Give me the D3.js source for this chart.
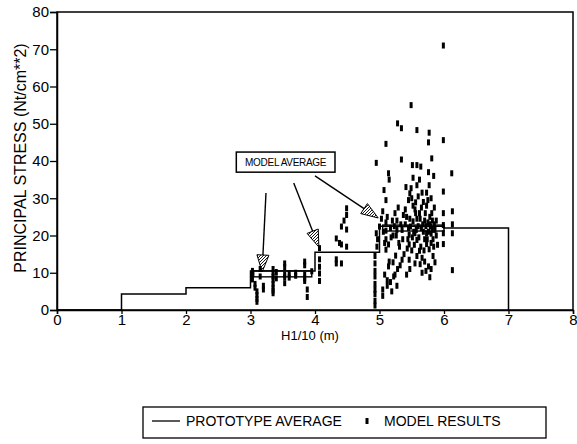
<!DOCTYPE html>
<head>
    <meta charset="utf-8">
    <script src="https://d3js.org/d3.v7.min.js"></script>
    <style>
        body { margin:0; background:#fff; }
        svg text { font-family: "Liberation Sans", Arial, sans-serif; fill:#000; }
    </style>
</head>
<body>
    <svg id="svgelem" width="577" height="444"></svg>

    <script>
        // prototype average (step line, each value holds until the next x)
        var protoX = [0, 1, 2, 3, 4, 5, 6, 7];
        var protoY = [0, 4.3, 6, 10.5, 15.5, 22.5, 22, 0];

        // model average, drawn as hollow bars
        var avgStart = [3.05, 5.05];
        var avgEnd   = [3.95, 6.0];
        var avgLow   = [8.9, 21.2];
        var avgHigh  = [10.5, 22.8];

        // model results [H1/10, stress]
        var modelResults = [
            [3.03,10.5],[3.03,9.5],[3.03,8.2],[3.07,7],[3.07,6],[3.1,5],[3.1,4],[3.1,3],[3.1,2.2],
            [3.15,11],[3.15,9],[3.2,6.5],[3.2,5.5],
            [3.35,11],[3.35,10],[3.35,9],[3.35,8],[3.35,7],[3.35,6],[3.35,5.2],[3.35,4.5],
            [3.4,10.2],[3.4,8.5],[3.53,12.5],[3.53,11.5],[3.53,9.5],[3.53,8.8],[3.53,7.2],
            [3.6,9.8],[3.6,8.7],[3.7,10],[3.7,9.2],
            [3.84,13],[3.84,12],[3.84,9.5],[3.84,8.5],[3.84,7.8],[3.88,5.5],[3.88,3.5],[3.95,10.4],
            [4.07,16.6],[4.07,13.6],[4.07,11.6],[4.07,9.8],[4.07,7.8],
            [4.33,13.6],[4.33,12.5],[4.33,19.2],[4.38,18],[4.41,22.4],[4.41,17.6],[4.41,12.5],
            [4.45,24],[4.49,27.3],[4.49,25.5],[4.49,21.6],[4.49,17],
            [4.93,14.5],[4.93,12.5],[4.93,10.5],[4.93,9],[4.93,7],[4.93,5.5],[4.93,4.3],[4.93,2.5],[4.93,1.2],
            [4.95,39.5],[4.95,20.6],[4.96,17],
            [5.99,71],[5.49,55],[5.28,50.1],[5.34,48.8],[5.58,48.3],[5.77,47.6],[5.76,45],[5.99,45.6],
            [5.10,44.6],[5.34,40.4],[5.51,38.9],[5.58,38.9],[5.64,38.5],[5.81,40.7],[5.76,37],
            [5.84,36],[6.12,36.7],[5.14,36.7],[5.15,35],[5.58,33.5],[5.49,32.7],[5.47,31.3],[5.77,33.5],
            [5.73,31.5],[5.99,31.8],[5.07,32.2],[5.10,29.5],[5.24,26],[5.29,27.5],[5.45,29.5],
            [5.56,28.9],[5.65,27.5],[5.56,26],[5.73,28],[5.81,26],[5.99,26],[6.13,26.5],
            [5.00,22.4],[4.97,19],[5.03,24.5],[5.06,21],[5.10,23.5],[5.10,21.3],[5.10,19],[5.10,16.2],
            [5.14,17.6],[5.17,22],[5.20,24],[5.21,20],[5.26,20],[5.27,24],[5.27,21.5],[5.30,18],
            [5.35,21.5],[5.36,19],[5.31,17],[5.40,23],[5.42,25],[5.46,17.6],[5.46,20.2],[5.48,22.4],
            [5.52,23.8],[5.50,16],[5.55,20.6],[5.58,18.8],[5.60,22.5],[5.62,15.9],[5.63,24.5],
            [5.66,14],[5.68,21],[5.70,19],[5.73,20.6],[5.73,17.7],[5.75,23.5],[5.77,16.3],[5.79,22.4],
            [5.82,21.5],[5.83,19],[5.83,14.5],[5.85,23],[5.88,20],[5.90,17.5],[5.99,17.7],[5.99,20.6],
            [5.99,22.8],[6.13,23],[6.13,20.6],[5.78,25],[5.80,18],[5.70,24],[5.65,22],[5.53,21],
            [5.44,19],[5.38,15],[5.25,14.6],[5.21,12.8],[5.15,13],[5.55,27],[5.60,30.5],[5.68,29],
            [5.40,27],[5.62,35],[5.52,35.5],[5.80,30],[5.88,24],[5.58,24.5],[5.45,22],[5.72,22.5],
            [5.05,26.5],[5.08,18],[5.12,25],[5.18,19.5],[5.23,22.5],[5.33,23],[5.37,25.5],[5.43,16.5],
            [5.47,24.5],[5.51,19.5],[5.54,17.5],[5.57,21.5],[5.61,19.5],[5.64,17],[5.67,23],[5.69,16],
            [5.71,26],[5.74,19],[5.76,21],[5.78,23],[5.80,20.5],[5.82,24],[5.84,17],[5.86,21.5],
            [5.52,28],[5.62,26],[5.75,29.5],[5.85,27.5],[5.66,31.5],[5.50,30],[5.41,33],
            [5.14,11.7],[5.08,9.5],[5.12,8],[5.12,6.5],[5.17,7.5],[5.22,9],[5.24,9.5],[5.28,11],
            [5.32,12],[5.35,13.5],[5.42,9.5],[5.47,11],[5.55,12.5],[5.63,12.3],[5.66,10],[5.72,10.5],
            [5.76,11.7],[5.78,8.8],[5.86,12.8],[6.13,10.7],[5.05,5.5],[5.05,3.8],[5.19,5],[5.27,6.5],
            [5.46,13.5],[5.58,14.5],[5.70,13],[5.80,11]
        ];

        var xTicks = [0, 1, 2, 3, 4, 5, 6, 7, 8];
        var yTicks = [0, 10, 20, 30, 40, 50, 60, 70, 80];

        // annotation arrows [from x, from y, to x, to y], data units
        var arrows = [[3.24, 31.4, 3.18, 10.2], [3.67, 34.1, 4.06, 16.9], [4.0, 36.0, 4.98, 24.7]];

        var svg = d3.select("#svgelem");
        var x = d3.scaleLinear().domain([0, 8]).range([57, 573]);
        var y = d3.scaleLinear().domain([0, 80]).range([310, 12]);

        // hatch for arrow heads
        svg.append("defs").append("pattern")
            .attr("id", "hatch").attr("patternUnits", "userSpaceOnUse")
            .attr("width", 3).attr("height", 3)
            .append("path").attr("d", "M0,3 L3,0").attr("stroke", "#000").attr("stroke-width", 0.9);

        // frame
        svg.append("rect")
            .attr("x", x(0)).attr("y", y(80))
            .attr("width", x(8) - x(0)).attr("height", y(0) - y(80))
            .attr("fill", "none").attr("stroke", "#000").attr("stroke-width", 1.5);

        var xAxis = svg.append("g")
            .attr("transform", "translate(0," + y(0) + ")")
            .call(d3.axisBottom(x).tickValues(xTicks).tickSize(4).tickPadding(0).tickFormat(d3.format("d")));
        var yAxis = svg.append("g")
            .attr("transform", "translate(" + x(0) + ",0)")
            .call(d3.axisLeft(y).tickValues(yTicks).tickSize(7).tickPadding(1).tickFormat(d3.format("d")));
        [xAxis, yAxis].forEach(function(g) {
            g.select(".domain").attr("stroke-width", 1.5);
            g.selectAll("line").attr("stroke-width", 1.3);
            g.selectAll("text").style("font-size", "15px").attr("fill", "#000");
        });

        // axis titles
        svg.append("text")
            .attr("transform", "translate(26," + 158 + ") rotate(-90)")
            .attr("text-anchor", "middle")
            .style("font-size", "16px")
            .text("PRINCIPAL STRESS (Nt/cm**2)");
        svg.append("text")
            .attr("x", 310).attr("y", 340)
            .attr("text-anchor", "middle")
            .style("font-size", "13px")
            .text("H1/10 (m)");

        // prototype average
        var line = d3.line()
            .x(function(d, i) { return x(protoX[i]); })
            .y(function(d, i) { return y(protoY[i]); })
            .curve(d3.curveStepAfter);
        svg.append("path")
            .attr("d", line(protoX))
            .attr("fill", "none").attr("stroke", "#000").attr("stroke-width", 1.5);

        // model average bars
        svg.append("g").selectAll("rect")
            .data(avgStart)
            .enter().append("rect")
            .attr("x", function(d) { return x(d); })
            .attr("y", function(d, i) { return y(avgHigh[i]); })
            .attr("width", function(d, i) { return x(avgEnd[i]) - x(d); })
            .attr("height", function(d, i) { return y(avgLow[i]) - y(avgHigh[i]); })
            .attr("fill", "none").attr("stroke", "#000").attr("stroke-width", 1.4);

        // model results
        svg.append("g").selectAll("rect")
            .data(modelResults)
            .enter().append("rect")
            .attr("x", function(d) { return x(d[0]) - 1.5; })
            .attr("y", function(d) { return y(d[1]) - 3; })
            .attr("width", 3).attr("height", 6)
            .attr("fill", "#000");

        // annotation label
        svg.append("rect")
            .attr("x", x(2.78)).attr("y", y(42.4))
            .attr("width", x(4.31) - x(2.78)).attr("height", y(37.0) - y(42.4))
            .attr("fill", "#fff").attr("stroke", "#000").attr("stroke-width", 1.5);
        svg.append("text")
            .attr("x", (x(2.78) + x(4.31)) / 2).attr("y", y(38.7))
            .attr("text-anchor", "middle")
            .style("font-size", "10px").style("letter-spacing", "-0.3px")
            .text("MODEL AVERAGE");

        // arrows
        arrows.forEach(function(a) {
            var x0 = x(a[0]), y0 = y(a[1]), x1 = x(a[2]), y1 = y(a[3]);
            var len = Math.sqrt((x1 - x0) * (x1 - x0) + (y1 - y0) * (y1 - y0));
            var ux = (x1 - x0) / len, uy = (y1 - y0) / len;
            var bx = x1 - ux * 17, by = y1 - uy * 17;
            svg.append("line")
                .attr("x1", x0).attr("y1", y0).attr("x2", bx).attr("y2", by)
                .attr("stroke", "#000").attr("stroke-width", 1.4);
            svg.append("path")
                .attr("d", "M" + x1 + "," + y1 +
                    "L" + (bx - uy * 6) + "," + (by + ux * 6) +
                    "L" + (bx + uy * 6) + "," + (by - ux * 6) + "Z")
                .attr("fill", "url(#hatch)").attr("stroke", "#000").attr("stroke-width", 1);
        });

        // legend
        var legend = svg.append("g");
        legend.append("rect")
            .attr("x", 143).attr("y", 407).attr("width", 403).attr("height", 31)
            .attr("fill", "none").attr("stroke", "#000").attr("stroke-width", 1.3);
        legend.append("line")
            .attr("x1", 152).attr("x2", 180).attr("y1", 421).attr("y2", 421)
            .attr("stroke", "#000").attr("stroke-width", 1.3);
        legend.append("text").attr("x", 186).attr("y", 426).style("font-size", "14px").text("PROTOTYPE AVERAGE");
        legend.append("rect").attr("x", 365.5).attr("y", 418).attr("width", 3).attr("height", 6).attr("fill", "#000");
        legend.append("text").attr("x", 384).attr("y", 426).style("font-size", "14px").text("MODEL RESULTS");
    </script>
</body>
